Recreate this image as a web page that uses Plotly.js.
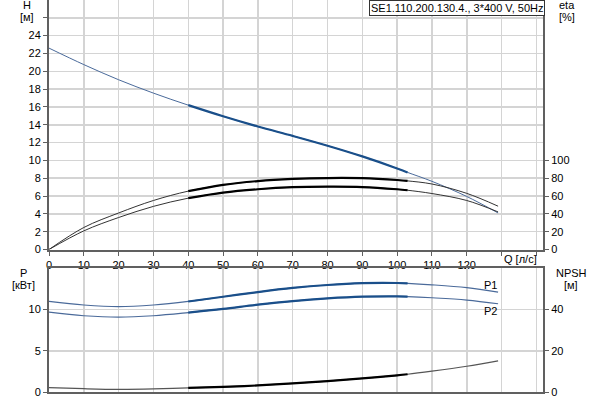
<!DOCTYPE html>
<html><head><meta charset="utf-8">
<script src="https://cdn.plot.ly/plotly-3.0.1.min.js"></script>
<style>body{margin:0;background:#fff}#chart{width:600px;height:400px}</style>
</head><body><div id="chart"></div>
<script>
// Flow Q [л/с]
const Q = [0, 10, 20, 30, 40, 50, 60, 70, 80, 90, 100, 103, 110, 120, 129];
// Head H [м]
const H = [22.6, 20.75, 19.05, 17.55, 16.2, 14.95, 13.8, 12.75, 11.65, 10.45, 9.1, 8.65, 7.65, 5.95, 4.1];
// Efficiency eta [%]
const etaUpper = [0, 24.7, 41, 55.0, 65.5, 72.5, 76.8, 79.2, 80.2, 80, 78, 77, 73.5, 63, 48.6];
const etaLower = [0, 20.9, 35.9, 48.4, 57.6, 63.8, 67.6, 69.9, 70.5, 70.1, 67.6, 66.5, 62.8, 55.0, 42.2];
// Power P [кВт]
const P1 = [10.98, 10.55, 10.35, 10.55, 10.98, 11.55, 12.12, 12.62, 12.98, 13.2, 13.22, 13.18, 13.0, 12.65, 12.12];
const P2 = [9.68, 9.25, 9.08, 9.25, 9.63, 10.08, 10.6, 11.03, 11.35, 11.56, 11.6, 11.57, 11.43, 11.15, 10.7];
// NPSH [м]
const NPSH = [2.1, 1.6, 1.3, 1.5, 2.0, 2.5, 3.2, 4.2, 5.3, 6.6, 8.1, 8.6, 10.1, 12.5, 15.1];
// Duty range (thick segment)
const dutyMin = 40, dutyMax = 103;
// Tick labels
const qTicks = [0,10,20,30,40,50,60,70,80,90,100,110,120,130,140];
const qTickText = ['0','10','20','30','40','50','60','70','80','90','100','110','120','',''];
const hTicks = [0,2,4,6,8,10,12,14,16,18,20,22,24,26];
const hTickText = ['0','2','4','6','8','10','12','14','16','18','20','22','24',''];
const etaTicks = [0,20,40,60,80,100];
const pTicks = [0,5,10];
const npshTicks = [0,20,40];
const titleText = 'SE1.110.200.130.4., 3*400 V, 50Hz';

function duty(arr){
  const xs=[], ys=[];
  Q.forEach((q,i)=>{ if(q>=dutyMin && q<=dutyMax){ xs.push(q); ys.push(arr[i]); } });
  return {x:xs, y:ys};
}
function pair(arr, xa, ya, thinColor, thickColor, thinW){
  const d = duty(arr);
  return [
    {x:Q, y:arr, xaxis:xa, yaxis:ya, mode:'lines', line:{color:thinColor, width:thinW, shape:'spline', smoothing:1.0}, hoverinfo:'skip'},
    {x:d.x, y:d.y, xaxis:xa, yaxis:ya, mode:'lines', line:{color:thickColor, width:2.2, shape:'spline', smoothing:1.0}, hoverinfo:'skip'}
  ];
}
const blueThin = '#4a6a9a', blueThick = '#1a4f8a';
const traces = [].concat(
  pair(H, 'x', 'y', blueThin, blueThick, 1),
  pair(etaUpper, 'x', 'y2', '#333', '#000', 1),
  pair(etaLower, 'x', 'y2', '#333', '#000', 1),
  pair(P1, 'x2', 'y3', blueThin, blueThick, 1.2),
  pair(P2, 'x2', 'y3', blueThin, blueThick, 1.2),
  pair(NPSH, 'x2', 'y4', '#555', '#000', 1.2)
);

const L=49, W=494, PH=392;
const px = v => (v-L)/W;
const py = v => (PH-v)/PH;
const font = {family:'Liberation Sans, Arial, sans-serif', size:11, color:'#000'};
const gridc = '#d4d4d4', linec = '#606060';
const xr = [0, 141.9];
const common = {showline:true, linecolor:linec, linewidth:2, ticks:'outside', ticklen:4, tickwidth:1, tickcolor:linec, zeroline:false, tickfont:font};

function ann(text, x, y, extra){
  return Object.assign({text:text, xref:'paper', yref:'paper', x:px(x), y:py(y), xanchor:'center', yanchor:'middle', showarrow:false, font:font}, extra||{});
}

const layout = {
  width:600, height:400,
  margin:{l:49, r:57, t:0, b:8},
  paper_bgcolor:'#fff', plot_bgcolor:'#fff',
  showlegend:false, hovermode:false,
  xaxis: Object.assign({}, common, {domain:[0,1], anchor:'y', range:xr, tickmode:'array', tickvals:qTicks, ticktext:qTickText, showgrid:true, gridcolor:gridc, gridwidth:1.5}),
  yaxis: Object.assign({}, common, {domain:[py(249.5),1], anchor:'x', range:[0,28], tickmode:'array', tickvals:hTicks, ticktext:hTickText, showgrid:true, gridcolor:gridc, gridwidth:1.5}),
  yaxis2: Object.assign({}, common, {overlaying:'y', side:'right', anchor:'x', range:[0,280], tickmode:'array', tickvals:etaTicks, showgrid:false}),
  xaxis2: Object.assign({}, common, {domain:[0,1], anchor:'y3', range:xr, tickmode:'array', tickvals:qTicks, showticklabels:false, ticks:'', showgrid:true, gridcolor:gridc, gridwidth:1.5, mirror:true}),
  yaxis3: Object.assign({}, common, {domain:[0,py(267.5)], anchor:'x2', range:[0,15.1], tickmode:'array', tickvals:pTicks, showgrid:true, gridcolor:gridc, gridwidth:1.5}),
  yaxis4: Object.assign({}, common, {overlaying:'y3', side:'right', anchor:'x2', range:[0,60.4], tickmode:'array', tickvals:npshTicks, showgrid:false}),
  annotations:[
    ann('H', 27, 5), ann('[м]', 27, 17),
    ann('eta', 567, 5), ann('[%]', 567, 17),
    ann('P', 23, 273), ann('[кВт]', 23, 285),
    ann('NPSH', 571, 273), ann('[м]', 571, 285),
    ann('Q [л/с]', 539, 259, {xanchor:'right'}),
    ann('P1', 490, 285), ann('P2', 490, 311),
    ann(titleText, 545, 0, {xanchor:'right', yanchor:'top', bgcolor:'#fff', bordercolor:'#333', borderwidth:1, borderpad:1})
  ]
};
Plotly.newPlot('chart', traces, layout, {staticPlot:true, displayModeBar:false});
</script></body></html>
